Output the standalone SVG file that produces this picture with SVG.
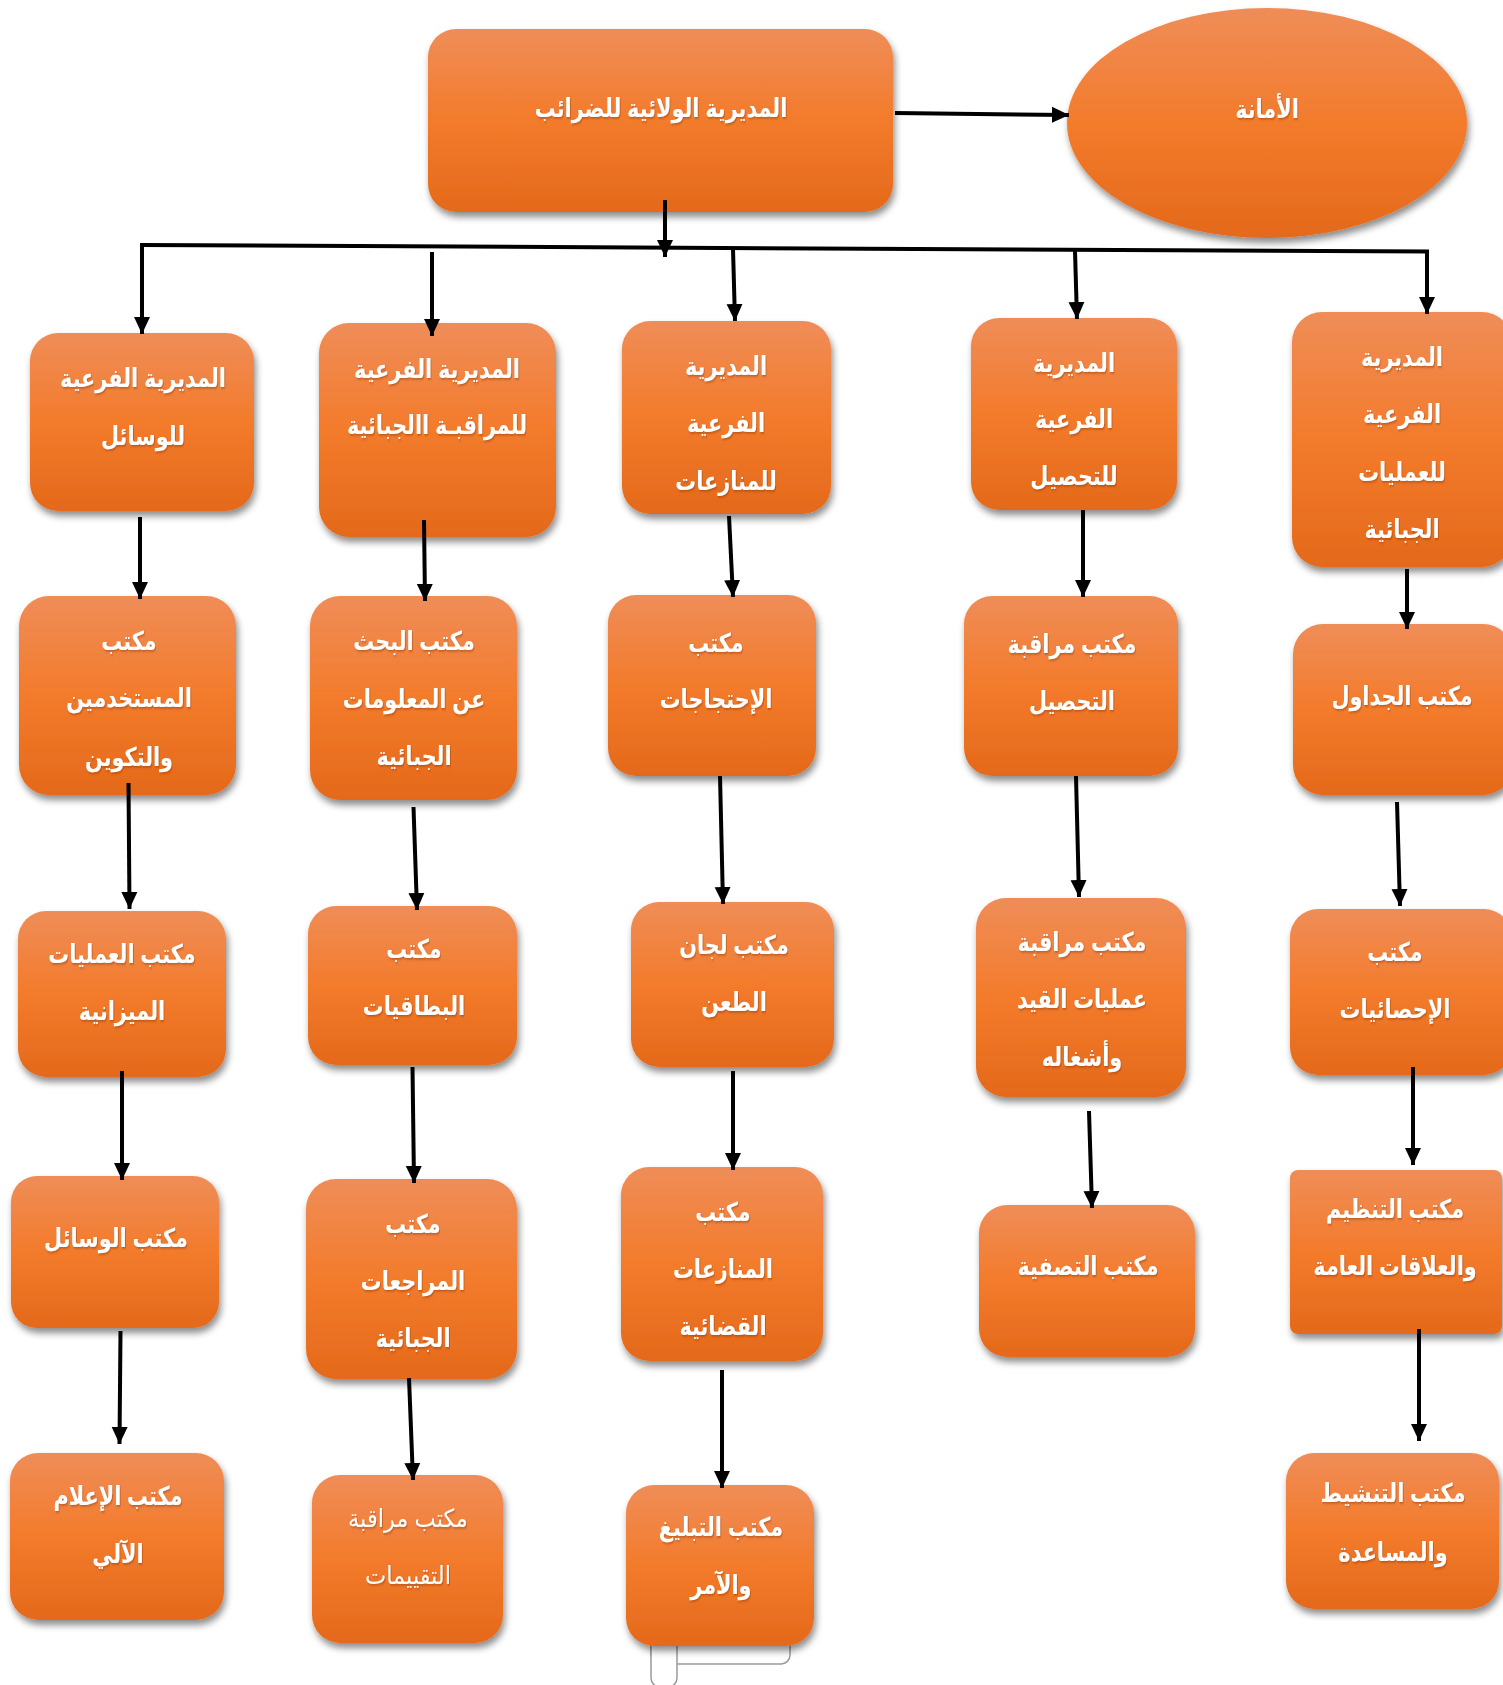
<svg xmlns="http://www.w3.org/2000/svg" width="1503" height="1685" viewBox="0 0 1503 1685">
<defs>
<linearGradient id="og" x1="0" y1="0" x2="0" y2="1">
<stop offset="0" stop-color="#EF8D58"/>
<stop offset="0.5" stop-color="#F37B2B"/>
<stop offset="1" stop-color="#E4691B"/>
</linearGradient>
<filter id="sh" x="-10%" y="-10%" width="125%" height="130%">
<feDropShadow dx="2" dy="5" stdDeviation="3.5" flood-color="#000" flood-opacity="0.45"/>
</filter>
<filter id="tsh" x="-5%" y="-20%" width="110%" height="150%">
<feDropShadow dx="1" dy="1.5" stdDeviation="0.8" flood-color="#7a2e00" flood-opacity="0.45"/>
</filter>
<marker id="ah" markerUnits="userSpaceOnUse" markerWidth="18" markerHeight="18" viewBox="0 0 18 18" refX="17" refY="9" orient="auto">
<path d="M0,1 L17,9 L0,17 z" fill="#000"/>
</marker>
</defs>
<style>
.n{fill:url(#og);filter:url(#sh)}
.t{font-family:"Liberation Sans","DejaVu Sans",sans-serif;font-weight:bold;font-size:26px;fill:#fff;text-anchor:middle;filter:url(#tsh);transform-box:fill-box;transform-origin:center;transform:scaleX(0.8)}
.r{font-weight:normal;font-size:25px;transform:scaleX(0.9)}
.c{stroke:#000;stroke-width:4;fill:none}
.a{marker-end:url(#ah)}
.pg{fill:#fff;stroke:#9a9a9a;stroke-width:1.5}
</style>
<rect width="1503" height="1685" fill="#fff"/>
<g id="pagebox">
<rect class="pg" x="651" y="1615" width="139" height="49" rx="9"/>
<rect class="pg" x="651" y="1615" width="26" height="72" rx="9"/>
</g>
<g id="n-top"><rect class="n" x="428" y="29" width="465" height="183" rx="28"/><text class="t" x="661" y="117">المديرية الولائية للضرائب</text></g>
<g id="n-amana"><ellipse class="n" cx="1267" cy="123" rx="200" ry="115"/><text class="t" x="1267" y="118">الأمانة</text></g>
<g id="n11"><rect class="n" x="30" y="333" width="224" height="178" rx="28"/><text class="t" x="143" y="387">المديرية الفرعية</text><text class="t" x="143" y="445">للوسائل</text></g>
<g id="n12"><rect class="n" x="319" y="323" width="237" height="214" rx="30"/><text class="t" x="437" y="378">المديرية الفرعية</text><text class="t" x="437" y="434">للمراقبـة االجبائية</text></g>
<g id="n13"><rect class="n" x="622" y="321" width="209" height="193" rx="28"/><text class="t" x="726" y="375">المديرية</text><text class="t" x="726" y="432">الفرعية</text><text class="t" x="726" y="490">للمنازعات</text></g>
<g id="n14"><rect class="n" x="971" y="318" width="206" height="192" rx="28"/><text class="t" x="1074" y="372">المديرية</text><text class="t" x="1074" y="428">الفرعية</text><text class="t" x="1074" y="485">للتحصيل</text></g>
<g id="n15"><rect class="n" x="1292" y="312" width="220" height="255" rx="30"/><text class="t" x="1402" y="366">المديرية</text><text class="t" x="1402" y="423">الفرعية</text><text class="t" x="1402" y="481">للعمليات</text><text class="t" x="1402" y="538">الجبائية</text></g>
<g id="n21"><rect class="n" x="19" y="596" width="217" height="199" rx="30"/><text class="t" x="129" y="650">مكتب</text><text class="t" x="129" y="707">المستخدمين</text><text class="t" x="129" y="766">والتكوين</text></g>
<g id="n22"><rect class="n" x="310" y="596" width="207" height="204" rx="30"/><text class="t" x="414" y="650">مكتب البحث</text><text class="t" x="414" y="708">عن المعلومات</text><text class="t" x="414" y="765">الجبائية</text></g>
<g id="n23"><rect class="n" x="608" y="595" width="208" height="181" rx="28"/><text class="t" x="716" y="652">مكتب</text><text class="t" x="716" y="708">الإحتجاجات</text></g>
<g id="n24"><rect class="n" x="964" y="596" width="214" height="180" rx="28"/><text class="t" x="1072" y="653">مكتب مراقبة</text><text class="t" x="1072" y="710">التحصيل</text></g>
<g id="n25"><rect class="n" x="1293" y="624" width="220" height="171" rx="30"/><text class="t" x="1402" y="705">مكتب الجداول</text></g>
<g id="n31"><rect class="n" x="18" y="911" width="208" height="166" rx="28"/><text class="t" x="122" y="963">مكتب العمليات</text><text class="t" x="122" y="1020">الميزانية</text></g>
<g id="n32"><rect class="n" x="308" y="906" width="209" height="159" rx="28"/><text class="t" x="414" y="958">مكتب</text><text class="t" x="414" y="1015">البطاقيات</text></g>
<g id="n33"><rect class="n" x="631" y="902" width="203" height="165" rx="28"/><text class="t" x="734" y="954">مكتب لجان</text><text class="t" x="734" y="1011">الطعن</text></g>
<g id="n34"><rect class="n" x="976" y="898" width="210" height="199" rx="30"/><text class="t" x="1082" y="951">مكتب مراقبة</text><text class="t" x="1082" y="1008">عمليات القيد</text><text class="t" x="1082" y="1066">وأشغاله</text></g>
<g id="n35"><rect class="n" x="1290" y="909" width="222" height="166" rx="28"/><text class="t" x="1395" y="961">مكتب</text><text class="t" x="1395" y="1018">الإحصائيات</text></g>
<g id="n41"><rect class="n" x="11" y="1176" width="208" height="152" rx="26"/><text class="t" x="116" y="1247">مكتب الوسائل</text></g>
<g id="n42"><rect class="n" x="306" y="1179" width="211" height="200" rx="30"/><text class="t" x="413" y="1233">مكتب</text><text class="t" x="413" y="1290">المراجعات</text><text class="t" x="413" y="1347">الجبائية</text></g>
<g id="n43"><rect class="n" x="621" y="1167" width="202" height="194" rx="28"/><text class="t" x="723" y="1221">مكتب</text><text class="t" x="723" y="1278">المنازعات</text><text class="t" x="723" y="1335">القضائية</text></g>
<g id="n44"><rect class="n" x="979" y="1205" width="216" height="152" rx="28"/><text class="t" x="1088" y="1275">مكتب التصفية</text></g>
<g id="n45"><rect class="n" x="1290" y="1170" width="212" height="164" rx="8"/><text class="t" x="1395" y="1218">مكتب التنظيم</text><text class="t" x="1395" y="1275">والعلاقات العامة</text></g>
<g id="n51"><rect class="n" x="10" y="1453" width="214" height="167" rx="28"/><text class="t" x="118" y="1505">مكتب الإعلام</text><text class="t" x="118" y="1563">الآلي</text></g>
<g id="n52"><rect class="n" x="312" y="1475" width="191" height="168" rx="28"/><text class="t r" x="408" y="1527">مكتب مراقبة</text><text class="t r" x="408" y="1584">التقييمات</text></g>
<g id="n53"><rect class="n" x="626" y="1485" width="188" height="161" rx="28"/><text class="t" x="721" y="1536">مكتب التبليغ</text><text class="t" x="721" y="1594">والآمر</text></g>
<g id="n55"><rect class="n" x="1286" y="1453" width="213" height="156" rx="28"/><text class="t" x="1393" y="1502">مكتب التنشيط</text><text class="t" x="1393" y="1561">والمساعدة</text></g>
<g id="connectors">
<line class="c a" x1="895" y1="113" x2="1069" y2="115"/>
<line class="c a" x1="665" y1="200" x2="665" y2="257"/>
<line class="c" x1="140" y1="245" x2="1429" y2="251.5"/>
<line class="c a" x1="142" y1="245" x2="142" y2="334"/>
<line class="c a" x1="432" y1="252" x2="432" y2="336"/>
<line class="c a" x1="733" y1="249" x2="735" y2="321"/>
<line class="c a" x1="1075" y1="251" x2="1077" y2="319"/>
<line class="c a" x1="1427" y1="250" x2="1427" y2="314"/>
<line class="c a" x1="140" y1="517" x2="140" y2="599"/>
<line class="c a" x1="424" y1="520" x2="425" y2="601"/>
<line class="c a" x1="729" y1="516" x2="733" y2="597"/>
<line class="c a" x1="1083" y1="510" x2="1083" y2="597"/>
<line class="c a" x1="1407" y1="569" x2="1407" y2="629"/>
<line class="c a" x1="128.5" y1="783" x2="129.5" y2="909"/>
<line class="c a" x1="413.5" y1="807" x2="417" y2="910"/>
<line class="c a" x1="720" y1="776" x2="723" y2="904"/>
<line class="c a" x1="1076" y1="776" x2="1079" y2="897"/>
<line class="c a" x1="1397" y1="802" x2="1400" y2="906"/>
<line class="c a" x1="122" y1="1071" x2="122" y2="1180"/>
<line class="c a" x1="412.5" y1="1067" x2="414" y2="1183"/>
<line class="c a" x1="733" y1="1071" x2="733" y2="1170"/>
<line class="c a" x1="1089" y1="1111" x2="1092" y2="1208"/>
<line class="c a" x1="1413" y1="1067" x2="1413" y2="1165"/>
<line class="c a" x1="120.5" y1="1331" x2="119.5" y2="1444"/>
<line class="c a" x1="409" y1="1378" x2="413" y2="1480"/>
<line class="c a" x1="722" y1="1370" x2="722" y2="1488"/>
<line class="c a" x1="1419" y1="1329" x2="1419" y2="1441"/>
</g>
</svg>
